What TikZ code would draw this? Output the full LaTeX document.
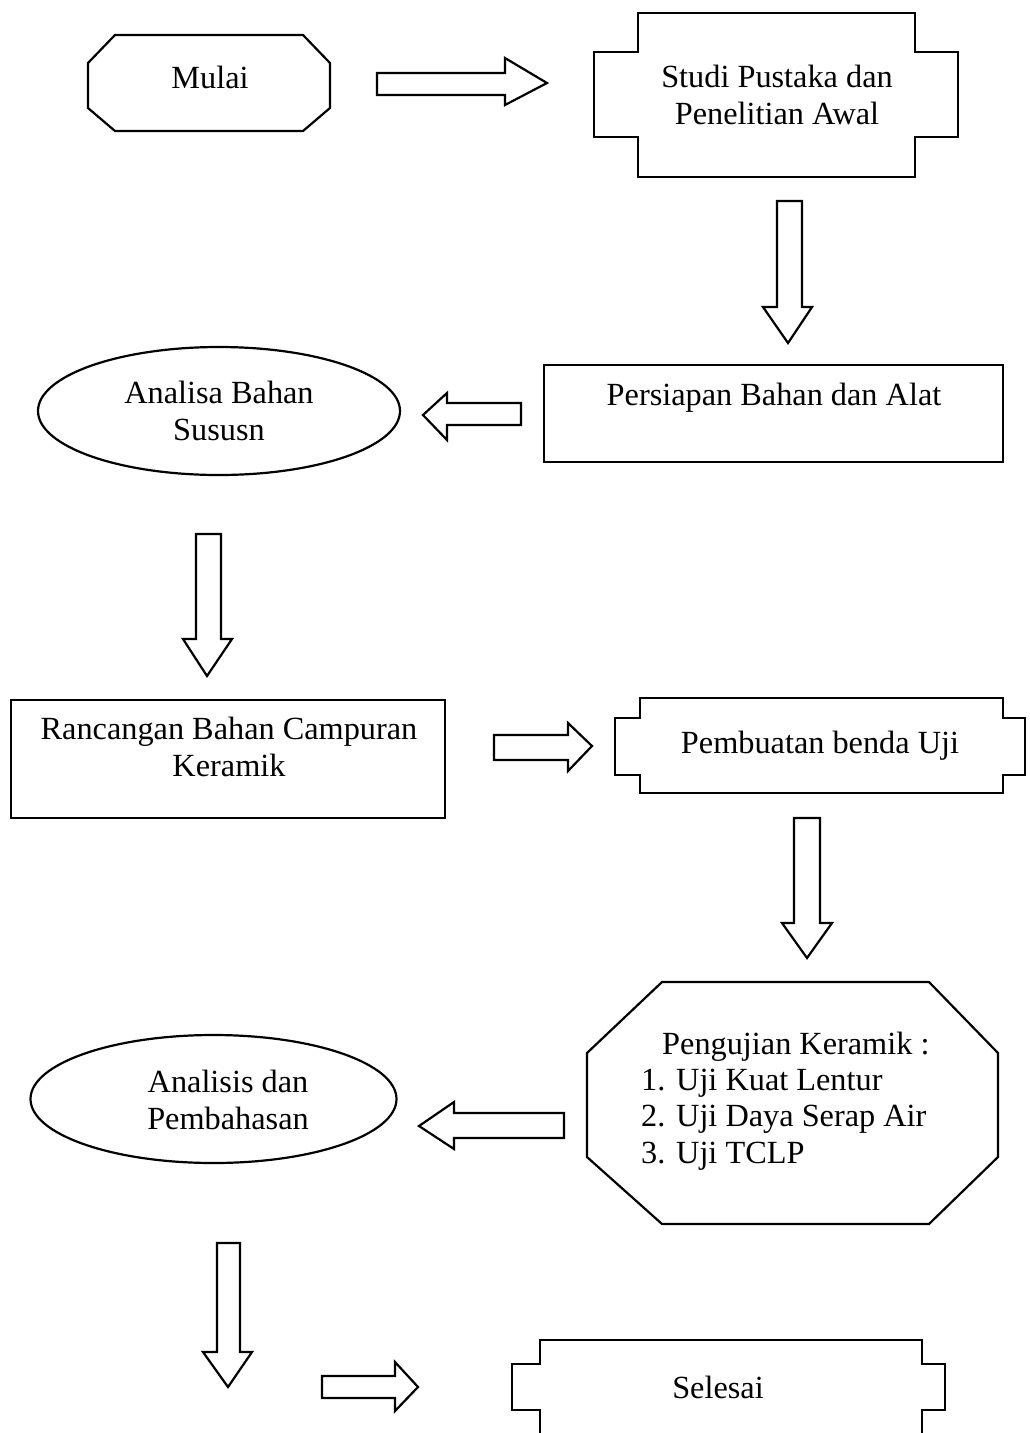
\documentclass[tikz,border=0pt]{standalone}
\usepackage{fontspec}
\setmainfont{Liberation Serif}
\begin{document}
\begin{tikzpicture}[x=1pt,y=-1pt,
  shapeline/.style={draw=black,line width=2.2pt,line join=miter},
  blockarrow/.style={draw=black,line width=2.2pt,line join=miter,fill=white},
  txt/.style={font=\fontsize{32.3}{36.3}\selectfont,align=center,inner sep=0pt}]
\useasboundingbox[fill=white] (0,0) rectangle (1029,1433);
% ---- shapes ----
% Mulai (octagon)
\draw[shapeline] (115,35) -- (303,35) -- (330,63) -- (330,108) -- (303,131) -- (115,131) -- (88,108) -- (88,63) -- cycle;
\node[txt] (mulai) at (210,77) {Mulai};
% Studi Pustaka (notched box)
\draw[shapeline] (638,13) -- (915,13) -- (915,52) -- (958,52) -- (958,137) -- (915,137) -- (915,177) -- (638,177) -- (638,137) -- (594,137) -- (594,52) -- (638,52) -- cycle;
\node[txt] (studi) at (777,95) {Studi Pustaka dan\\Penelitian Awal};
% Persiapan
\draw[shapeline] (544,365) rectangle (1003,462);
\node[txt] (persiapan) at (774,398) {Persiapan Bahan dan Alat};
% Analisa ellipse
\draw[shapeline] (219,411) ellipse [x radius=181, y radius=64];
\node[txt] (analisa) at (219,411) {Analisa Bahan\\Sususn};
% Rancangan
\draw[shapeline] (11,700) rectangle (445,818);
\node[txt] (rancangan) at (229,747) {Rancangan Bahan Campuran\\Keramik};
% Pembuatan
\draw[shapeline] (640,698) -- (1003,698) -- (1003,718) -- (1025,718) -- (1025,775) -- (1003,775) -- (1003,793) -- (640,793) -- (640,775) -- (615,775) -- (615,718) -- (640,718) -- cycle;
\node[txt] (pembuatan) at (820,746) {Pembuatan benda Uji};
% Pengujian octagon
\draw[shapeline] (662,982) -- (929,982) -- (998,1053) -- (998,1157) -- (929,1224) -- (662,1224) -- (587,1157) -- (587,1053) -- cycle;
\node[txt,align=left,anchor=west] (pengujian) at (641,1101) {\hspace*{21pt}Pengujian Keramik :\\1. Uji Kuat Lentur\\2. Uji Daya Serap Air\\3. Uji TCLP};
% Analisis ellipse
\draw[shapeline] (213.5,1099) ellipse [x radius=183, y radius=64];
\node[txt] (analisis) at (228,1100) {Analisis dan\\Pembahasan};
% Selesai (cut at bottom edge)
\begin{scope}
\clip (0,0) rectangle (1029,1433);
\draw[shapeline] (540,1460) -- (540,1410) -- (512,1410) -- (512,1364) -- (540,1364) -- (540,1340) -- (922,1340) -- (922,1364) -- (945,1364) -- (945,1410) -- (922,1410) -- (922,1460);
\end{scope}
\node[txt] (selesai) at (718,1387) {Selesai};
% ---- block arrows ----
% 1 right
\draw[blockarrow] (377,73) -- (505,73) -- (505,58) -- (547,83) -- (505,105) -- (505,95) -- (377,95) -- cycle;
% 2 down
\draw[blockarrow] (777,201) -- (802,201) -- (802,307) -- (812,307) -- (788,343) -- (763,307) -- (777,307) -- cycle;
% 3 left
\draw[blockarrow] (521,403) -- (447,403) -- (447,393) -- (423,415) -- (447,440) -- (447,425) -- (521,425) -- cycle;
% 4 down
\draw[blockarrow] (196,534) -- (221,534) -- (221,639) -- (232,639) -- (207,676) -- (183,639) -- (196,639) -- cycle;
% 5 right
\draw[blockarrow] (494,735) -- (568,735) -- (568,723) -- (592,746) -- (568,771) -- (568,760) -- (494,760) -- cycle;
% 6 down
\draw[blockarrow] (794,818) -- (820,818) -- (820,923) -- (832,923) -- (807,958) -- (782,923) -- (794,923) -- cycle;
% 7 left
\draw[blockarrow] (564,1113) -- (454,1113) -- (454,1102) -- (419,1126) -- (454,1149) -- (454,1138) -- (564,1138) -- cycle;
% 8 down
\draw[blockarrow] (217,1243) -- (240,1243) -- (240,1352) -- (252,1352) -- (228,1387) -- (203,1352) -- (217,1352) -- cycle;
% 9 right
\draw[blockarrow] (322,1376) -- (395,1376) -- (395,1362) -- (418,1387) -- (395,1411) -- (395,1398) -- (322,1398) -- cycle;
\end{tikzpicture}
\end{document}
